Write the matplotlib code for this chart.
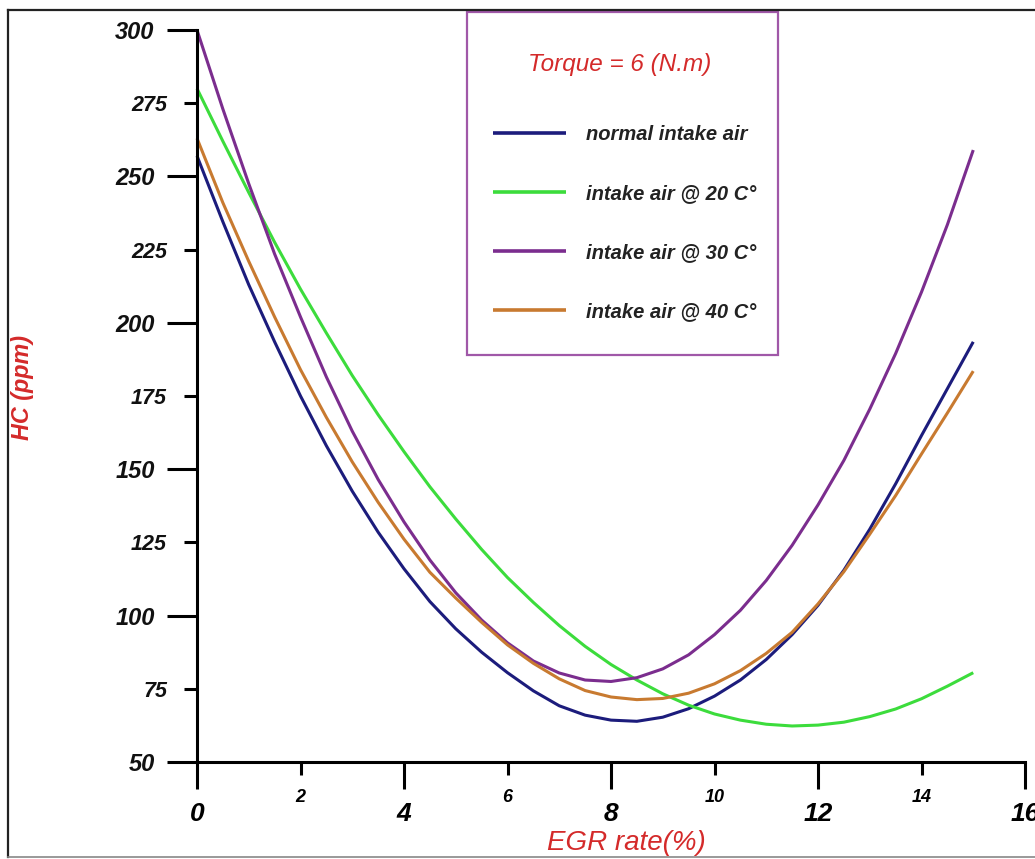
#=========================#
#  module                 #
#=========================#
import matplotlib
matplotlib.use('Agg')
import matplotlib.pyplot as plt
from matplotlib.patches import Rectangle
from matplotlib.lines import Line2D

#=========================#
#  data                   #
#=========================#
egr = [0, 0.5, 1, 1.5, 2, 2.5, 3, 3.5, 4, 4.5, 5, 5.5, 6, 6.5, 7, 7.5,
       8, 8.5, 9, 9.5, 10, 10.5, 11, 11.5, 12, 12.5, 13, 13.5, 14, 14.5, 15]

hc_normal = [257, 234.5, 213, 193.5, 175, 158, 142.5, 128.5, 116, 104.8, 95.5, 87.5, 80.5, 74.3, 69.2, 66,
             64.3, 63.9, 65.3, 68.2, 72.5, 78, 85, 93.5, 103.5, 115.5, 129.5, 145, 161.5, 177.5, 193.5]
hc_20c    = [280, 262, 244.5, 227.5, 211.5, 196.5, 182, 168.6, 156, 144, 133, 122.6, 113, 104.5, 96.6, 89.5,
             83.3, 78, 73.3, 69.4, 66.4, 64.3, 62.9, 62.3, 62.6, 63.6, 65.5, 68.1, 71.6, 75.9, 80.5]
hc_30c    = [300, 273, 247.5, 223.5, 202, 181.5, 163, 146.5, 132, 119, 107.8, 98.5, 90.7, 84.5, 80.4, 78,
             77.5, 78.8, 81.8, 86.6, 93.5, 101.8, 112, 124, 137.8, 153, 170.5, 189.5, 210.5, 233.5, 259]
hc_40c    = [263, 241, 221, 202, 184, 167.7, 152.5, 138.7, 126.1, 114.8, 106, 97.7, 90, 83.7, 78.4, 74.4,
             72.2, 71.3, 71.7, 73.5, 76.7, 81.2, 87.1, 94.3, 104, 115, 127.8, 141, 155.2, 169.2, 183.5]

series_labels = ['normal intake air', 'intake air @ 20 C°', 'intake air @ 30 C°', 'intake air @ 40 C°']
series_colors = ['#1c1c7c', '#3cdc3c', '#7b2d8e', '#c87a30']

x_major = [0, 4, 8, 12, 16]
x_minor = [2, 6, 10, 14]
y_major = [50, 100, 150, 200, 250, 300]
y_minor = [75, 125, 175, 225, 275]

#=========================#
#  fonts                  #
#=========================#
fam = ['Liberation Sans', 'DejaVu Sans']
red = '#d42a2a'

#=========================#
#  figure                 #
#=========================#
W, H = 1035, 859
fig = plt.figure(figsize=(W/100, H/100), dpi=100, facecolor='white')
plt.subplots_adjust(left=197/W, right=1025/W, bottom=1-762/H, top=1-30/H)
ax = fig.add_subplot(111, facecolor='white')

for y, lab, col in zip([hc_normal, hc_20c, hc_30c, hc_40c], series_labels, series_colors):
    ax.plot(egr, y, c=col, linewidth=2.2, label=lab, clip_on=False, solid_capstyle='butt')

# lim
ax.set_xlim(0, 16)
ax.set_ylim(50, 300)

# spines
for s in ['top', 'right']:
    ax.spines[s].set_visible(False)
for s in ['left', 'bottom']:
    ax.spines[s].set_linewidth(2.2)

# ticks
ax.set_xticks(x_major, [str(v) for v in x_major])
ax.set_xticks(x_minor, [str(v) for v in x_minor], minor=True)
ax.set_yticks(y_major, [str(v) for v in y_major])
ax.set_yticks(y_minor, [str(v) for v in y_minor], minor=True)

ax.tick_params(axis='x', which='major', direction='out', length=19.5, width=2.2, pad=9)
ax.tick_params(axis='x', which='minor', direction='out', length=9.5, width=2.2, pad=10)
ax.tick_params(axis='y', which='major', direction='out', length=21.5, width=2.2, pad=9)
ax.tick_params(axis='y', which='minor', direction='out', length=9.5, width=2.2, pad=12)

for t in ax.get_xticklabels():
    t.set_fontfamily(fam); t.set_fontstyle('italic'); t.set_fontweight('bold'); t.set_fontsize(19)
for t in ax.get_xticklabels(minor=True):
    t.set_fontfamily(fam); t.set_fontstyle('italic'); t.set_fontweight('bold'); t.set_fontsize(13)
for t in ax.get_yticklabels():
    t.set_fontfamily(fam); t.set_fontstyle('italic'); t.set_fontweight('bold'); t.set_fontsize(17); t.set_color('#111111')
for t in ax.get_yticklabels(minor=True):
    t.set_fontfamily(fam); t.set_fontstyle('italic'); t.set_fontweight('bold'); t.set_fontsize(15.5); t.set_color('#111111')

# axis label
fig.text(22/W, 1-388/H, 'HC (ppm)', rotation=90, ha='center', va='center', color=red,
         family=fam, style='italic', weight='bold', fontsize=16.8)
fig.text(626/W, 1-843/H, 'EGR rate(%)', ha='center', va='center', color=red,
         family=fam, style='italic', fontsize=20)

#=========================#
#  legend box             #
#=========================#
fig.patches.append(Rectangle((467/W, 1-355/H), 311/W, 343/H, transform=fig.transFigure,
                             fill=False, edgecolor='#a058a8', linewidth=1.6))
fig.text(620/W, 1-65/H, 'Torque = 6 (N.m)', ha='center', va='center', color=red,
         family=fam, style='italic', fontsize=17.5)
leg = ax.legend(loc='upper left', bbox_to_anchor=(493/W, 1-125/H), bbox_transform=fig.transFigure,
                frameon=False, borderpad=0, borderaxespad=0, handlelength=3.6, handletextpad=1.0,
                labelspacing=1.98, prop=dict(family=fam, style='italic', weight='bold', size=14.5))
for t in leg.get_texts():
    t.set_color('#222222')
for h in leg.get_lines():
    h.set_linewidth(2.6)

#=========================#
#  outer frame            #
#=========================#
fig.add_artist(Line2D([8/W, 8/W], [1-10/H, 1-857/H], transform=fig.transFigure, color='#222222', linewidth=1.6))
fig.add_artist(Line2D([8/W, 1.0], [1-10/H, 1-10/H], transform=fig.transFigure, color='#222222', linewidth=1.6))
fig.add_artist(Line2D([8/W, 1.0], [1-857/H, 1-857/H], transform=fig.transFigure, color='#888888', linewidth=1.2))

# save
fig.savefig('out.png', dpi=100, facecolor='white')
plt.close()
